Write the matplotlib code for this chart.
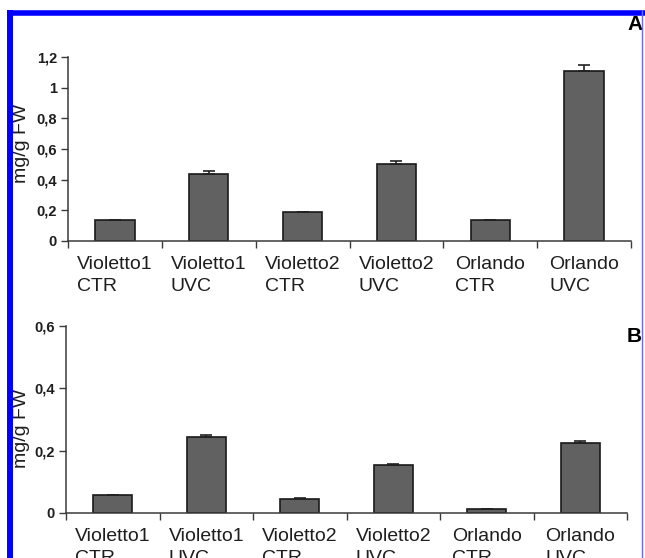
import matplotlib
matplotlib.use('Agg')
import matplotlib.pyplot as plt
from matplotlib.lines import Line2D

plt.rcParams['font.family'] = ['Liberation Sans', 'DejaVu Sans']

categories = ['Violetto1\nCTR', 'Violetto1\nUVC', 'Violetto2\nCTR',
              'Violetto2\nUVC', 'Orlando\nCTR', 'Orlando\nUVC']

# panel A
values_a = [0.14, 0.44, 0.19, 0.50, 0.14, 1.11]
errors_a = [0.0, 0.015, 0.0, 0.025, 0.0, 0.04]
yticks_a = [0, 0.2, 0.4, 0.6, 0.8, 1.0, 1.2]
ylabels_a = ['0', '0,2', '0,4', '0,6', '0,8', '1', '1,2']

# panel B
values_b = [0.058, 0.243, 0.045, 0.155, 0.012, 0.224]
errors_b = [0.0, 0.007, 0.003, 0.003, 0.0, 0.008]
yticks_b = [0, 0.2, 0.4, 0.6]
ylabels_b = ['0', '0,2', '0,4', '0,6']

W, H = 645, 558
fig = plt.figure(figsize=(W / 100, H / 100), dpi=100)

ax_a = fig.add_axes([68 / W, 1 - 241 / H, 563 / W, 184 / H])
ax_b = fig.add_axes([66 / W, 1 - 513 / H, 561 / W, 187 / H])

spine_col = '#3a3a3a'
text_col = '#1e1e1e'


def draw_panel(ax, values, errors, yticks, ylabels, ymax):
    x = list(range(len(values)))
    ax.bar(x, values, width=0.42, color='#616161', edgecolor='#1a1a1a',
           linewidth=1.2, zorder=2)
    ax.errorbar(x, values, yerr=[[0] * len(errors), errors], fmt='none',
                ecolor='#222222', elinewidth=1.2, capsize=4, capthick=1.2,
                zorder=3)
    ax.set_xlim(-0.5, len(values) - 0.5)
    ax.set_ylim(0, ymax)
    ax.set_yticks(yticks)
    ax.set_yticklabels(ylabels, fontsize=10.5, fontweight='bold', color=text_col)
    ax.set_xticks([i - 0.5 for i in range(len(values) + 1)])
    ax.set_xticklabels([])
    ax.set_xticks(x, minor=True)
    ax.set_xticklabels(categories, minor=True, fontsize=14, color=text_col,
                       ha='center', multialignment='left', linespacing=1.4)
    ax.tick_params(axis='x', which='minor', length=0, pad=11)
    ax.tick_params(axis='x', which='major', length=5, width=1, color=spine_col,
                   direction='out')
    ax.tick_params(axis='y', length=5, width=1, color=spine_col,
                   direction='out', pad=3)
    for side in ('top', 'right'):
        ax.spines[side].set_visible(False)
    for side in ('left', 'bottom'):
        ax.spines[side].set_color(spine_col)
        ax.spines[side].set_linewidth(1.1)


draw_panel(ax_a, values_a, errors_a, yticks_a, ylabels_a, 1.2)
draw_panel(ax_b, values_b, errors_b, yticks_b, ylabels_b, 0.6)

# y-axis titles
fig.text(21 / W, 1 - 143 / H, 'mg/g FW', rotation=90, fontsize=14,
         color=text_col, ha='center', va='center')
fig.text(21 / W, 1 - 428 / H, 'mg/g FW', rotation=90, fontsize=14,
         color=text_col, ha='center', va='center')

# panel letters at the right edge
fig.text(627 / W, 1 - 25 / H, 'A', fontsize=15, fontweight='bold',
         va='center', ha='left')
fig.text(627 / W, 1 - 336 / H, 'B', fontsize=15, fontweight='bold',
         va='center', ha='left')


# blue frame
def px_line(x0, y0, x1, y1, color, lw):
    fig.add_artist(Line2D([x0 / W, x1 / W], [1 - y0 / H, 1 - y1 / H],
                          color=color, linewidth=lw, zorder=10,
                          solid_capstyle='butt'))


px_line(9.5, 10, 9.5, H, '#0000ff', 4.3)
px_line(7, 12.5, 645, 12.5, '#0000ff', 4.0)
px_line(641.5, 10, 641.5, H, '#6a6aff', 1.0)

fig.savefig('out.png', dpi=100)
